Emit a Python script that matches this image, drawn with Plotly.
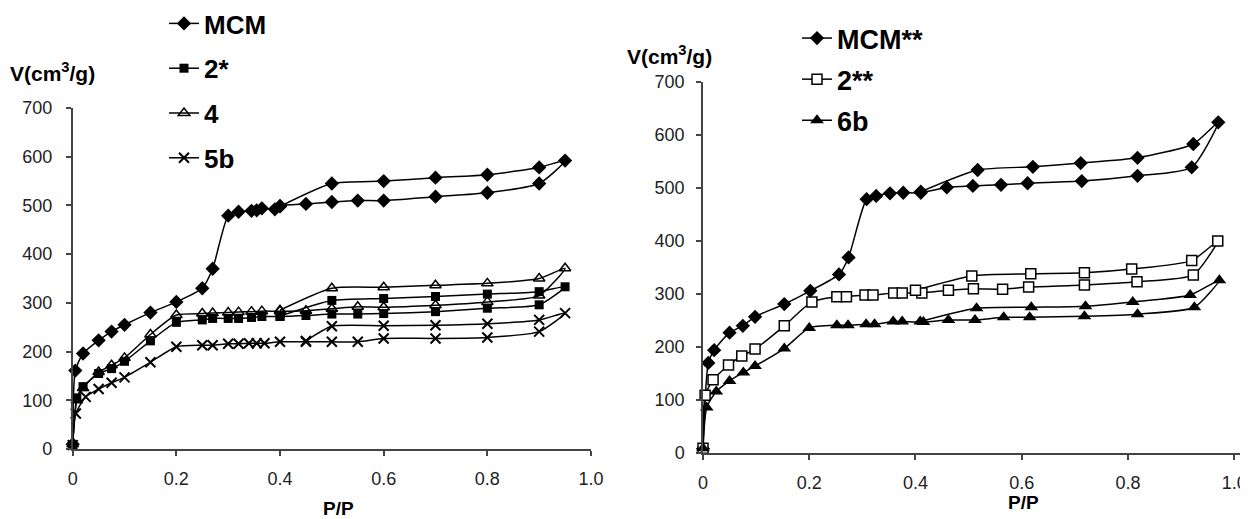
import plotly.graph_objects as go

# ---------------- data ----------------
# Left panel
L_mcm_x = [0, 0.005, 0.02, 0.05, 0.075, 0.1, 0.15, 0.2, 0.25, 0.27, 0.3, 0.32, 0.345, 0.355, 0.365, 0.39, 0.4,
           0.45, 0.5, 0.55, 0.6, 0.7, 0.8, 0.9, 0.95, 0.9, 0.8, 0.7, 0.6, 0.5, 0.4]
L_mcm_y = [10, 161, 196, 223, 241, 255, 280, 302, 330, 370, 479, 487, 489, 490, 494, 492, 499,
           503, 507, 510, 510, 518, 526, 545, 592, 578, 563, 557, 550, 545, 498]

L_2_x = [0, 0.008, 0.02, 0.05, 0.075, 0.1, 0.15, 0.2, 0.25, 0.27, 0.3, 0.32, 0.345, 0.365, 0.4,
         0.45, 0.5, 0.55, 0.6, 0.7, 0.8, 0.9, 0.95, 0.9, 0.8, 0.7, 0.6, 0.5, 0.4]
L_2_y = [8, 105, 128, 155, 165, 180, 222, 260, 265, 268, 268, 268, 270, 272, 272,
         274, 277, 277, 278, 282, 289, 296, 333, 323, 318, 313, 309, 305, 273]

L_4_x = [0, 0.008, 0.02, 0.05, 0.075, 0.1, 0.15, 0.2, 0.25, 0.27, 0.3, 0.32, 0.345, 0.365, 0.4,
         0.45, 0.5, 0.55, 0.6, 0.7, 0.8, 0.9, 0.95, 0.9, 0.8, 0.7, 0.6, 0.5, 0.4]
L_4_y = [10, 100, 125, 158, 172, 187, 235, 275, 278, 279, 280, 281, 282, 283, 283,
         284, 288, 292, 291, 295, 302, 315, 371, 350, 340, 336, 332, 330, 285]

L_5b_x = [0, 0.006, 0.025, 0.05, 0.075, 0.1, 0.15, 0.2, 0.25, 0.27, 0.3, 0.32, 0.34, 0.355, 0.37, 0.4,
          0.45, 0.5, 0.55, 0.6, 0.7, 0.8, 0.9, 0.95, 0.9, 0.8, 0.7, 0.6, 0.5, 0.45]
L_5b_y = [8, 73, 107, 123, 136, 147, 178, 210, 213, 213, 216, 216, 217, 217, 217, 220,
          220, 220, 220, 227, 227, 229, 241, 279, 265, 257, 254, 253, 252, 222]

# Right panel
R_mcm_x = [0, 0.01, 0.021, 0.05, 0.075, 0.098, 0.153, 0.202, 0.256, 0.274, 0.308, 0.326, 0.352, 0.377, 0.41,
           0.459, 0.508, 0.561, 0.611, 0.713, 0.818, 0.92, 0.97, 0.923, 0.818, 0.711, 0.621, 0.517, 0.41]
R_mcm_y = [8, 170, 194, 227, 240, 257, 281, 306, 337, 369, 479, 485, 490, 491, 491,
           501, 504, 506, 509, 513, 523, 539, 624, 583, 557, 547, 540, 534, 493]

R_2_x = [0, 0.004, 0.019, 0.048, 0.073, 0.098, 0.153, 0.205, 0.252, 0.27, 0.305, 0.32, 0.359, 0.375, 0.412,
         0.462, 0.509, 0.564, 0.613, 0.718, 0.817, 0.923, 0.969, 0.92, 0.807, 0.718, 0.617, 0.506, 0.4]
R_2_y = [9, 109, 138, 166, 183, 196, 240, 285, 295, 295, 298, 298, 302, 302, 302,
         307, 310, 309, 313, 317, 323, 336, 400, 363, 347, 340, 338, 334, 307]

R_6b_x = [0, 0.007, 0.025, 0.05, 0.076, 0.098, 0.153, 0.2, 0.252, 0.273, 0.307, 0.323, 0.358, 0.375, 0.415,
          0.462, 0.512, 0.566, 0.615, 0.718, 0.818, 0.925, 0.972, 0.917, 0.809, 0.72, 0.618, 0.515, 0.409]
R_6b_y = [9, 86, 116, 136, 152, 164, 197, 236, 241, 241, 243, 243, 248, 248, 247,
          251, 251, 256, 256, 258, 262, 275, 326, 298, 285, 277, 275, 273, 248]

y_ticks = [0, 100, 200, 300, 400, 500, 600, 700]
x_ticks = [0, 0.2, 0.4, 0.6, 0.8, 1.0]
x_ticklabels = ["0", "0.2", "0.4", "0.6", "0.8", "1.0"]

# ---------------- figure ----------------
FONT = "Liberation Sans, Arial, sans-serif"
fig = go.Figure()

def add(x, y, name, symbol, size, xa, ya, legend, fill="black", lw=0):
    fig.add_trace(go.Scatter(
        x=x, y=y, name=name, mode="lines+markers",
        line=dict(color="black", width=1.5, shape="spline", smoothing=0.6),
        marker=dict(symbol=symbol, size=size, color=fill,
                    line=dict(color="black", width=lw)),
        xaxis=xa, yaxis=ya, legend=legend, legendgroup=name,
        cliponaxis=False))

add(L_mcm_x, L_mcm_y, "MCM", "diamond", 11, "x", "y", "legend")
add(L_2_x, L_2_y, "2*", "square", 9, "x", "y", "legend")
add(L_4_x, L_4_y, "4", "triangle-up-open", 10, "x", "y", "legend", lw=1.5)
add(L_5b_x, L_5b_y, "5b", "x-thin-open", 10, "x", "y", "legend", lw=2)

add(R_mcm_x, R_mcm_y, "MCM**", "diamond", 11, "x2", "y2", "legend2")
add(R_2_x, R_2_y, "2**", "square", 10, "x2", "y2", "legend2", fill="white", lw=1.5)
add(R_6b_x, R_6b_y, "6b", "triangle-up", 12, "x2", "y2", "legend2")

# page is shown with an 8px body margin: figure is 1240x511, page coords = fig coords + 8
OFF = 8
W, H = 1248 - OFF, 519 - OFF

def fx(px):  # page x pixel -> paper fraction
    return (px - OFF) / W

def fy(py):  # page y pixel (from top) -> paper fraction
    return 1 - (py - OFF) / H

axis_common = dict(showline=True, linecolor="#444", linewidth=1.5, ticks="outside",
                   ticklen=5, tickcolor="#444", tickwidth=1.5, showgrid=False, zeroline=False,
                   automargin=False,
                   tickfont=dict(family=FONT, size=18, color="#222"))

fig.update_layout(
    template="none",
    width=W, height=H, margin=dict(l=0, r=0, t=0, b=0, autoexpand=False),
    paper_bgcolor="white", plot_bgcolor="white",
    xaxis=dict(domain=[fx(72.7), fx(591)], range=[0, 1.0], tickvals=x_ticks, ticktext=x_ticklabels,
               anchor="y", ticklabelstandoff=8, **axis_common),
    yaxis=dict(domain=[fy(449), fy(108)], range=[0, 700], tickvals=y_ticks,
               anchor="x", ticklabelstandoff=10, **axis_common),
    xaxis2=dict(domain=[fx(703), fx(1247.5)], range=[0, 1.025], tickvals=x_ticks, ticktext=x_ticklabels,
                anchor="y2", ticklabelstandoff=8, **axis_common),
    yaxis2=dict(domain=[fy(453), fy(82)], range=[0, 700], tickvals=y_ticks,
                anchor="x2", ticklabelstandoff=8, **axis_common),
    legend=dict(x=fx(164), y=fy(0), xanchor="left", yanchor="top", bgcolor="rgba(0,0,0,0)",
                font=dict(family=FONT, size=26, color="black", weight="bold"),
                tracegroupgap=8, itemsizing="trace"),
    legend2=dict(x=fx(797), y=fy(14), xanchor="left", yanchor="top", bgcolor="rgba(0,0,0,0)",
                 font=dict(family=FONT, size=27, color="black", weight="bold"),
                 tracegroupgap=3, itemsizing="trace"),
    showlegend=True,
)

title_font = dict(family=FONT, size=21, color="black", weight="bold")
pp_font = dict(family=FONT, size=19, color="black", weight="bold")
fig.add_annotation(text="V(cm<sup>3</sup>/g)", xref="paper", yref="paper", x=fx(52), y=fy(72),
                   showarrow=False, font=title_font, xanchor="center", yanchor="middle")
fig.add_annotation(text="V(cm<sup>3</sup>/g)", xref="paper", yref="paper", x=fx(670), y=fy(55),
                   showarrow=False, font=title_font, xanchor="center", yanchor="middle")
fig.add_annotation(text="P/P", xref="paper", yref="paper", x=fx(338), y=fy(508),
                   showarrow=False, font=pp_font, xanchor="center", yanchor="middle")
fig.add_annotation(text="P/P", xref="paper", yref="paper", x=fx(1023), y=fy(502),
                   showarrow=False, font=pp_font, xanchor="center", yanchor="middle")

fig.write_html("out.html")
